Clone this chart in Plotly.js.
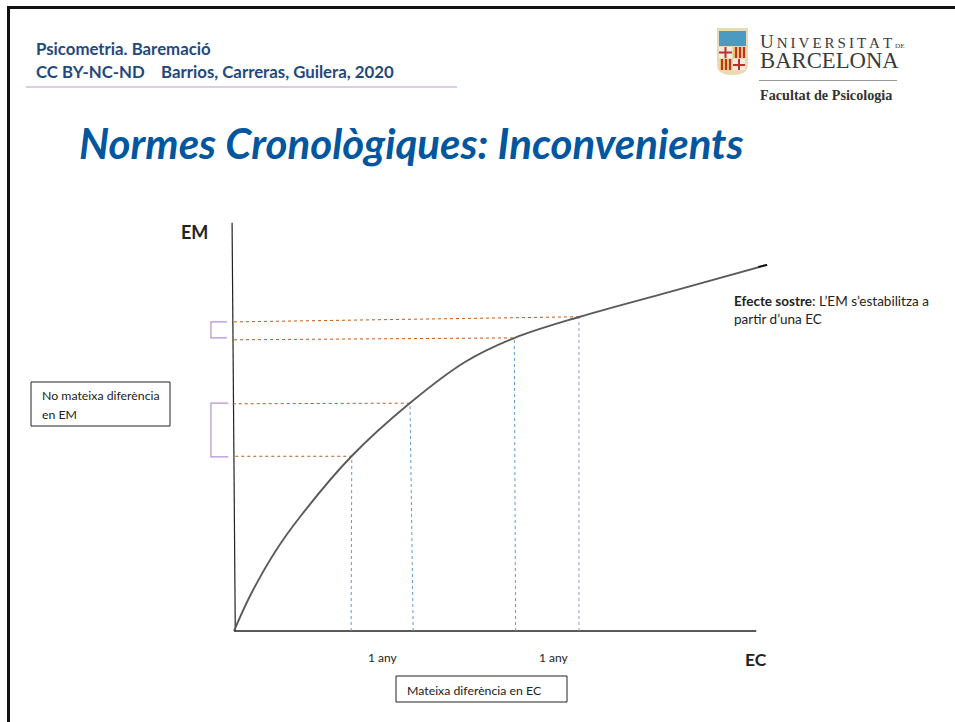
<!DOCTYPE html>
<html><head><meta charset="utf-8">
<script src="https://cdn.plot.ly/plotly-3.0.1.min.js"></script>
<style>html,body{margin:0;padding:0;background:#fff}#c{width:955px;height:722px}</style>
</head><body><div id="c"></div>
<script>
// Values in chart units: EC (age) and EM (score)
const curveEC = [0,0.25,0.64,1.03,1.84,2.75,3.61,4.38,5.39,6.81,8.33];
const curveEM = [0,0.547,1.234,1.781,2.734,3.562,4.203,4.578,4.906,5.30,5.72];
const tailEC = [8.19,8.33], tailEM = [5.69,5.72];
const axisXEC = [0,8.16], axisXEM = [0,0];
const axisYEC = [0.02,-0.03], axisYEM = [0,6.38];
const orangeEC = [[0.02,1.84],[-0.02,2.75],[0,4.38],[0,5.39]];
const orangeEM = [[2.73,2.73],[3.55,3.56],[4.55,4.58],[4.83,4.91]];
const blueEC = [[1.83,1.84],[2.80,2.75],[4.40,4.38]];
const blueEM = [[0,2.73],[0,3.56],[0,4.58]];
const purpleEC = [5.39,5.39], purpleEM = [0,4.91];
const bracketUpperEC = [-0.11,-0.36,-0.36,-0.11], bracketUpperEM = [4.83,4.83,4.58,4.58];
const bracketLowerEC = [-0.09,-0.36,-0.36,-0.09], bracketLowerEM = [3.56,3.56,2.72,2.72];
const yearLabels = ["1 any","1 any"];
const axisNames = ["EC","EM"];

const W=955,H=722,U=64,X0=234,Y0=631;
const line=(x,y,color,width,dash)=>({type:'scatter',mode:'lines',x,y,cliponaxis:false,hoverinfo:'skip',showlegend:false,line:{color,width,dash:dash||'solid'}});
const traces=[];
traces.push(line(axisXEC,axisXEM,'#222',1.4));
traces.push(line(axisYEC,axisYEM,'#222',1.2));
orangeEC.forEach((e,i)=>traces.push(line(e,orangeEM[i],'#c55a11',1,'dot')));
blueEC.forEach((e,i)=>traces.push(line(e,blueEM[i],'#5b9bd5',1,'dot')));
traces.push(line(purpleEC,purpleEM,'#a98fc9',1,'dot'));
traces.push(line(bracketUpperEC,bracketUpperEM,'#b68fd3',1.2));
traces.push(line(bracketLowerEC,bracketLowerEM,'#b68fd3',1.2));
const curve=line(curveEC,curveEM,'#5a5a5a',1.9);curve.line.shape='spline';curve.line.smoothing=1;
traces.push(curve);
traces.push(line(tailEC,tailEM,'#111',1.8));

const px=x=>x/W, py=y=>1-y/H;
const text=(x,y,t,size,color,family,extra)=>Object.assign({xref:'paper',yref:'paper',x:px(x),y:py(y),text:t,showarrow:false,xanchor:'left',yanchor:'middle',align:'left',borderpad:0,font:{size,color,family}},extra||{});
const rect=(x0,y0,x1,y1,fill,lc,lw)=>({type:'rect',xref:'paper',yref:'paper',x0:px(x0),x1:px(x1),y0:py(y0),y1:py(y1),fillcolor:fill||'rgba(0,0,0,0)',line:{color:lc||'rgba(0,0,0,0)',width:lw||0},layer:'below'});
const LATO='Lato, Carlito, sans-serif', SER='"Liberation Serif", serif';
const P=(x,y)=>px(x)+','+py(y);
const shapes=[
 rect(7,6,955,9,'#111'), rect(7,6,10,722,'#111'),
 rect(26,86.5,457,87.5,'#bb99d4'),
 rect(31,382,170,426,'#fff','#222',1), rect(396,676,567,702,'#fff','#222',1),
 // logo shield
 {type:'path',xref:'paper',yref:'paper',layer:'below',fillcolor:'#ead9b4',line:{width:0},path:'M'+P(717,28)+' L'+P(748,28)+' L'+P(748,65)+' Q'+P(748,75)+' '+P(732.5,75)+' Q'+P(717,75)+' '+P(717,65)+' Z'},
 rect(719,31,746,46,'#4a9ac2'),
 rect(719,47,732,58,'#f3ece0'), rect(724.5,47,726.5,58,'#b9332b'), rect(719,51.5,732,53.5,'#b9332b'),
 rect(733,47,746,58,'#e7c46c'), rect(735,47,737,58,'#b9332b'), rect(739,47,741,58,'#b9332b'), rect(743,47,745,58,'#b9332b'),
 rect(720,59,732,70,'#e7c46c'), rect(721,59,723,70,'#b9332b'), rect(725,59,727,70,'#b9332b'), rect(729,59,731,70,'#b9332b'),
 rect(733,59,745,70,'#f3ece0'), rect(738,59,740,70,'#b9332b'), rect(733,64,745,66,'#b9332b'),
 rect(759,80,897,81,'#999')
];
const dark='#1f497d', ink='#222';
const thin='\u2009';
const annotations=[
 text(35,48,'<b>Psicometria. Baremació</b>',16.8,dark,LATO),
 text(35,71,'<b>CC BY-NC-ND    Barrios, Carreras, Guilera, 2020</b>',16.8,dark,LATO),
 text(78,143,'<b><i>Normes Cronològiques: Inconvenients</i></b>',42,'#01579f',LATO),
 text(759,51.5,'<span style="font-size:19px">U</span>'+thin+'N'+thin+'I'+thin+'V'+thin+'E'+thin+'R'+thin+'S'+thin+'I'+thin+'T'+thin+'A'+thin+'T'+thin+'<span style="font-size:7px">DE</span><br><span style="font-size:22.7px">BARCELONA</span>',15,'#3a3a3a',SER),
 text(759,95,'<b>Facultat de Psicologia</b>',14.2,'#333',SER),
 text(180,232,'<b>'+axisNames[1]+'</b>',18,ink,LATO),
 text(744,659,'<b>'+axisNames[0]+'</b>',17.5,ink,LATO),
 text(367,657,yearLabels[0],12,ink,LATO),
 text(538,657,yearLabels[1],12,ink,LATO),
 text(406,690,'Mateixa diferència en EC',12.3,ink,LATO),
 text(41,395,'No mateixa diferència',12.3,ink,LATO),
 text(41,414,'en EM',12.3,ink,LATO),
 text(733,301,'<b>Efecte sostre</b>: L’EM s’estabilitza a',13.5,ink,LATO),
 text(733,319,'partir d’una EC',13.5,ink,LATO)
];
const layout={width:W,height:H,margin:{l:0,r:0,t:0,b:0},paper_bgcolor:'#fff',plot_bgcolor:'rgba(0,0,0,0)',showlegend:false,
 xaxis:{range:[-X0/U,(W-X0)/U],visible:false,fixedrange:true},
 yaxis:{range:[(Y0-H)/U,Y0/U],visible:false,fixedrange:true},
 shapes,annotations};
Plotly.newPlot('c',traces,layout,{displayModeBar:false,staticPlot:true});
</script></body></html>
